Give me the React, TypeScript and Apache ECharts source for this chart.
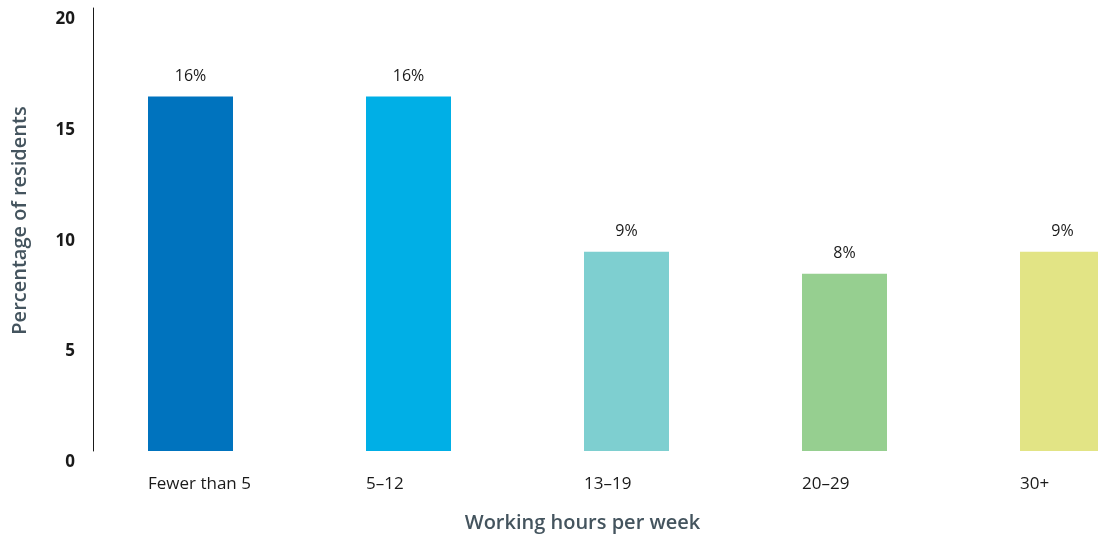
import React, { useEffect, useRef } from "react";
import * as echarts from "echarts";

const categories = ["Fewer than 5", "5–12", "13–19", "20–29", "30+"];
const values = [16, 16, 9, 8, 9];
const barColors = ["#0073BE", "#00AFE6", "#7ECFD0", "#96CF90", "#E2E485"];
const yTicks = [0, 5, 10, 15, 20];

const FONT = "'Open Sans', sans-serif";

export default function App() {
  const ref = useRef<HTMLDivElement>(null);
  useEffect(() => {
    if (!ref.current) return;
    const chart = echarts.init(ref.current, null, { renderer: "svg" });
    chart.setOption({
      animation: false,
      grid: { left: 81.5, top: 8, bottom: 86, width: 1090, outerBoundsMode: "none", containLabel: false },
      xAxis: {
        type: "category",
        data: categories,
        axisLine: { show: false },
        axisTick: { show: false },
        axisLabel: {
          margin: 23,
          color: "#1a1a1a",
          fontFamily: FONT,
          fontSize: 17,
          formatter: (v: string) => "{a|" + v + "}",
          rich: { a: { width: 85, align: "left", fontFamily: FONT, fontSize: 17, color: "#1a1a1a" } },
        },
        name: "Working hours per week",
        nameLocation: "middle",
        nameGap: 60,
        nameTextStyle: {
          color: "#44545E",
          fontFamily: FONT,
          fontWeight: 600,
          fontSize: 20,
          padding: [0, 88, 0, 0],
        },
      },
      yAxis: {
        type: "value",
        min: yTicks[0],
        max: yTicks[yTicks.length - 1],
        interval: 5,
        offset: -11.5,
        axisLine: { show: true, lineStyle: { color: "#1a1a1a", width: 1 } },
        axisTick: { show: false },
        splitLine: { show: false },
        axisLabel: {
          margin: 18,
          color: "#1a1a1a",
          fontFamily: FONT,
          fontWeight: "bold",
          fontSize: 17,
          verticalAlign: "top",
          padding: [1, 0, 0, 0],
        },
        name: "Percentage of residents",
        nameLocation: "middle",
        nameGap: 65,
        nameTextStyle: {
          color: "#44545E",
          fontFamily: FONT,
          fontWeight: 600,
          fontSize: 20,
          padding: [0, 0, 0, 18],
        },
      },
      series: [
        {
          type: "bar",
          barWidth: 85,
          data: values.map((v, i) => ({ value: v, itemStyle: { color: barColors[i] } })),
          label: {
            show: true,
            position: "top",
            distance: 14,
            formatter: "{c}%",
            color: "#1a1a1a",
            fontFamily: FONT,
            fontSize: 16,
          },
        },
      ],
    });
    return () => chart.dispose();
  }, []);
  return (
    <div
      ref={ref}
      style={{ position: "fixed", left: 0, top: 0, width: 1098, height: 537 }}
    />
  );
}
